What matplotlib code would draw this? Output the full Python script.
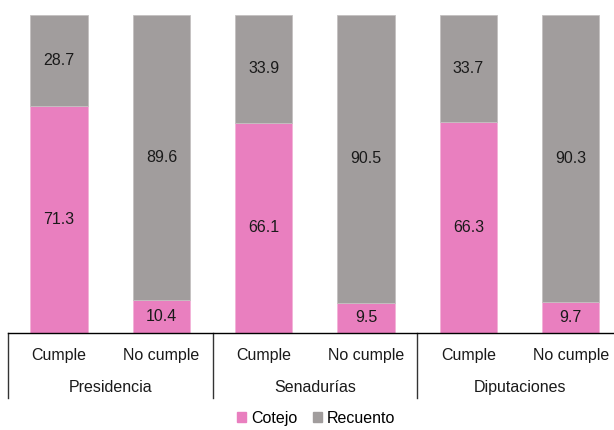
import matplotlib.pyplot as plt
from matplotlib.patches import Patch
from matplotlib.transforms import blended_transform_factory
import numpy as np

plt.rcParams['font.family'] = ['Liberation Sans', 'DejaVu Sans']

categories = ["Cumple", "No cumple", "Cumple", "No cumple", "Cumple", "No cumple"]
groups = ["Presidencia", "Senadurías", "Diputaciones"]
cotejo = [71.3, 10.4, 66.1, 9.5, 66.3, 9.7]
recuento = [28.7, 89.6, 33.9, 90.5, 33.7, 90.3]

pink = '#E97FBF'
gray = '#A19D9D'

fig = plt.figure(figsize=(6.14, 4.30), dpi=100)
ax = fig.add_axes([0.013, 0.2256, 1.0, 0.7395])

x = np.arange(len(categories))
ax.bar(x, cotejo, width=0.56, color=pink, edgecolor='#F2B3D8', linewidth=0.6)
ax.bar(x, recuento, width=0.56, bottom=cotejo, color=gray, edgecolor='#C4C1C1', linewidth=0.6)

# value labels centred in each segment
for xi, c, r in zip(x, cotejo, recuento):
    ax.text(xi, c / 2, f"{c:.1f}", ha='center', va='center', fontsize=11.5, color='#1a1a1a')
    ax.text(xi, c + r / 2, f"{r:.1f}", ha='center', va='center', fontsize=11.5, color='#1a1a1a')

ax.set_xlim(-0.5, 5.5)
ax.set_ylim(0, 100)
ax.set_xticks([])
ax.set_yticks([])
for s in ['top', 'right', 'left']:
    ax.spines[s].set_visible(False)
ax.spines['bottom'].set_linewidth(1.0)

# two-level category axis
tr = blended_transform_factory(ax.transData, fig.transFigure)
for xi, cat in zip(x, categories):
    ax.text(xi, 0.174, cat, transform=tr, ha='center', va='center', fontsize=11.5, color='#1a1a1a')
for i, g in enumerate(groups):
    ax.text(2 * i + 0.5, 0.098, g, transform=tr, ha='center', va='center', fontsize=11.5, color='#1a1a1a')
    xb = 2 * i - 0.5
    ax.plot([xb, xb], [0.2256, 0.074], transform=tr, color='#333333', lw=1.0, clip_on=False)

handles = [Patch(color=pink, label='Cotejo'), Patch(color=gray, label='Recuento')]
fig.legend(handles=handles, loc='center', bbox_to_anchor=(0.515, 0.027), ncol=2, frameon=False,
           fontsize=11.5, handlelength=0.55, handleheight=0.55, handletextpad=0.3, columnspacing=1.0,
           borderpad=0.1)

fig.savefig('out.png', dpi=100)
